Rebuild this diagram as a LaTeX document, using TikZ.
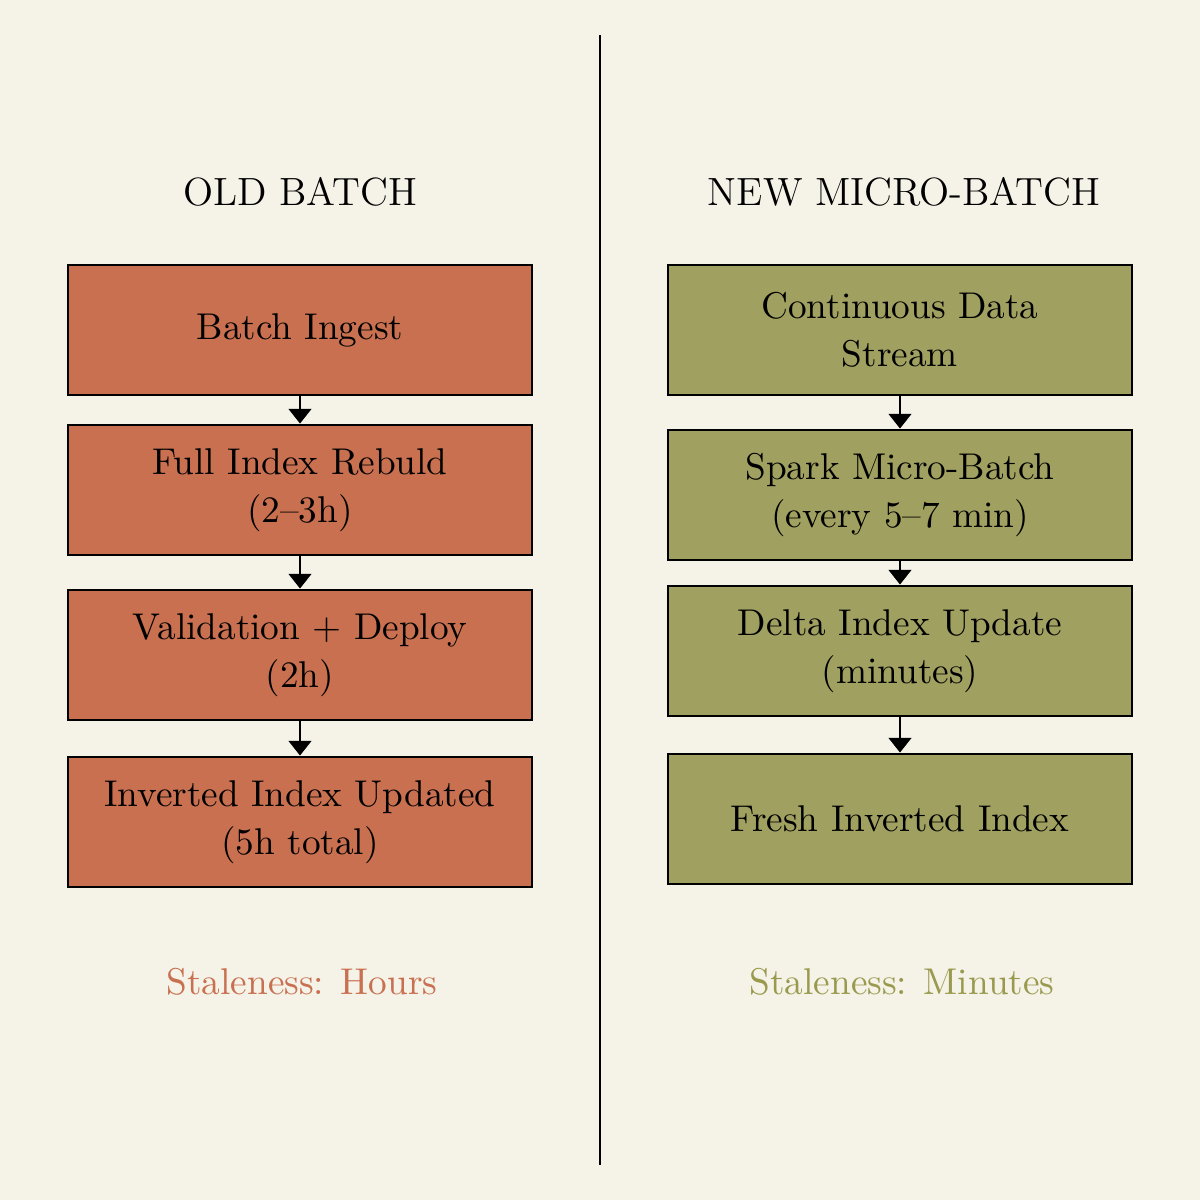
\documentclass[tikz,border=0pt]{standalone}
\usepackage{xcolor}
\usepackage{tikz}
\usetikzlibrary{arrows.meta}
\definecolor{paper}{HTML}{F5F2E7}
\definecolor{oldred}{HTML}{C87050}
\definecolor{newgreen}{HTML}{A0A060}
\definecolor{greentext}{HTML}{9A9A4E}

\begin{document}
\begin{tikzpicture}[every node/.style={font=\fontsize{10.6}{13.7}\selectfont},
  heading/.style={font=\fontsize{11.2}{13.7}\selectfont},
  stage/.style={draw=black,line width=0.8pt,minimum width=4.64cm,minimum height=1.3cm,align=center,inner sep=0pt},
  oldstage/.style={stage,fill=oldred},
  newstage/.style={stage,fill=newgreen},
  flow/.style={line width=0.85pt,-{Triangle[width=6.4pt,length=4.2pt]}}]
  \fill[paper] (0,0) rectangle (12,12);
  \useasboundingbox (0,0) rectangle (12,12);
  \draw[line width=0.85pt] (6,11.65) coordinate (top) -- (6,0.35) coordinate (bot);
  % old batch side
  \node[heading] (oldhead) at (3.0,10.08) {OLD BATCH};
  \node[oldstage] (ingest) at (3.0,8.70) {Batch Ingest};
  \node[oldstage] (rebuild) at (3.0,7.10) {Full Index Rebuld\\(2--3h)};
  \node[oldstage] (deploy) at (3.0,5.45) {Validation + Deploy\\(2h)};
  \node[oldstage] (inverted) at (3.0,3.78) {Inverted Index Updated\\(5h total)};
  \node[text=oldred] (oldstale) at (3.02,2.18) {Staleness: Hours};
  \draw[flow] (ingest) -- (rebuild);
  \draw[flow] (rebuild) -- (deploy);
  \draw[flow] (deploy) -- (inverted);
  % new micro-batch side
  \node[heading] (newhead) at (9.04,10.08) {NEW MICRO-BATCH};
  \node[newstage] (stream) at (9.0,8.70) {Continuous Data\\Stream};
  \node[newstage] (spark) at (9.0,7.05) {Spark Micro-Batch\\(every 5--7 min)};
  \node[newstage] (delta) at (9.0,5.49) {Delta Index Update\\(minutes)};
  \node[newstage] (fresh) at (9.0,3.81) {Fresh Inverted Index};
  \node[text=greentext] (newstale) at (9.02,2.18) {Staleness: Minutes};
  \draw[flow] (stream) -- (spark);
  \draw[flow] (spark) -- (delta);
  \draw[flow] (delta) -- (fresh);
\end{tikzpicture}
\end{document}
